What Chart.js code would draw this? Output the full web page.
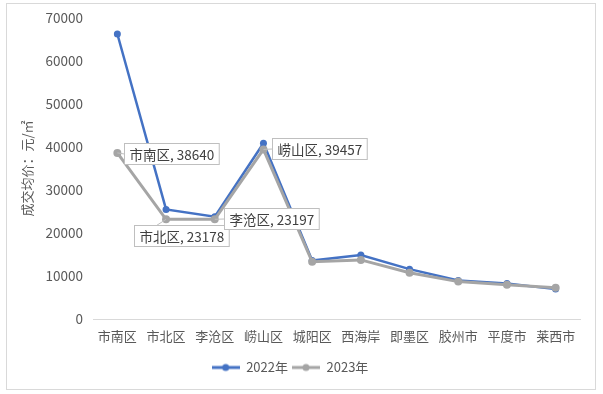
<!DOCTYPE html>
<html>
<head>
<meta charset="utf-8">
<style>
  html, body { margin: 0; padding: 0; background: #fff; }
</style>
</head>
<body>
<canvas id="myChart" width="603" height="394"></canvas>
<script src="https://cdn.jsdelivr.net/npm/chart.js"></script>
<script>
const districts = ['市南区', '市北区', '李沧区', '崂山区', '城阳区', '西海岸', '即墨区', '胶州市', '平度市', '莱西市'];
const price2022 = [66300, 25500, 23800, 40900, 13600, 14900, 11600, 8950, 8250, 6950];
const price2023 = [38640, 23178, 23197, 39457, 13300, 13750, 10750, 8700, 7950, 7250];
const seriesNames = ['2022年', '2023年'];
const labelledPoints = [0, 1, 2, 3]; // 2023年 with data labels

const FONT = '"Noto Sans CJK SC", "Noto Sans", sans-serif';
const TEXT = '#595959';

// legend icon: line + dot
function legendIcon(color, lw, r) {
  const c = document.createElement('canvas');
  c.width = 28; c.height = 10;
  const g = c.getContext('2d');
  g.strokeStyle = color; g.lineWidth = lw;
  g.beginPath(); g.moveTo(0, 5); g.lineTo(28, 5); g.stroke();
  g.fillStyle = color;
  g.beginPath(); g.arc(14, 5, r, 0, Math.PI * 2); g.fill();
  return c;
}

// outer frame
const framePlugin = {
  id: 'frame',
  beforeDraw(chart) {
    const ctx = chart.ctx;
    ctx.save();
    ctx.fillStyle = '#fff';
    ctx.fillRect(0, 0, chart.width, chart.height);
    ctx.strokeStyle = '#D9D9D9';
    ctx.lineWidth = 1;
    ctx.strokeRect(6.5, 3.5, 589, 386);
    ctx.restore();
  }
};

// callout labels for 2023
const calloutPlugin = {
  id: 'callouts',
  afterDatasetsDraw(chart) {
    const ctx = chart.ctx;
    const meta = chart.getDatasetMeta(1);
    // box placement relative to the point: [dx to left edge, dy to top edge]
    const place = { 0: [7, -10], 1: [-32, 6], 2: [9, -11], 3: [9, -11] };
    ctx.save();
    ctx.font = '13.5px ' + FONT;
    labelledPoints.forEach(i => {
      const pt = meta.data[i];
      const txt = districts[i] + ', ' + price2023[i];
      const w = ctx.measureText(txt).width + 10;
      const h = 21;
      const bx = Math.round(pt.x + place[i][0]) + 0.5;
      const by = Math.round(pt.y + place[i][1]) + 0.5;
      // leader
      ctx.strokeStyle = '#BFBFBF';
      ctx.lineWidth = 1;
      ctx.beginPath();
      ctx.moveTo(pt.x, pt.y);
      if (i === 1) ctx.lineTo(bx + 22, by);
      else ctx.lineTo(bx, by + h / 2);
      ctx.stroke();
      ctx.fillStyle = '#fff';
      ctx.fillRect(bx, by, w, h);
      ctx.strokeRect(bx, by, w, h);
      ctx.fillStyle = '#404040';
      ctx.textBaseline = 'middle';
      ctx.fillText(txt, bx + 5, by + h / 2 + 1);
    });
    ctx.restore();
  }
};

new Chart(document.getElementById('myChart'), {
  type: 'line',
  data: {
    labels: districts,
    datasets: [
      {
        label: seriesNames[0],
        data: price2022,
        borderColor: '#4472C4',
        backgroundColor: '#4472C4',
        borderWidth: 2.5,
        pointRadius: 3.5,
        pointBorderWidth: 0,
        tension: 0,
        order: 1
      },
      {
        label: seriesNames[1],
        data: price2023,
        borderColor: '#A5A5A5',
        backgroundColor: '#A5A5A5',
        borderWidth: 3,
        pointRadius: 4,
        pointBorderWidth: 0,
        tension: 0,
        order: 0
      }
    ]
  },
  options: {
    responsive: false,
    animation: false,
    devicePixelRatio: 1,
    layout: { padding: { top: 18, right: 23, bottom: 10, left: 0 } },
    scales: {
      x: {
        offset: true,
        grid: { display: false, drawTicks: false },
        border: { display: true, color: '#D9D9D9', width: 1 },
        ticks: { color: TEXT, font: { family: FONT, size: 13 }, padding: 9, maxRotation: 0, autoSkip: false },
        afterFit: s => { s.height = 38; }
      },
      y: {
        min: 0,
        max: 70000,
        ticks: {
          stepSize: 10000,
          color: TEXT,
          font: { family: FONT, size: 13.5 },
          padding: 10,
          callback: v => String(v)
        },
        grid: { display: false, drawTicks: false },
        border: { display: false },
        title: {
          display: true,
          text: '成交均价：元/㎡',
          color: TEXT,
          font: { family: FONT, size: 13 },
          padding: { top: 19, bottom: 0 }
        },
        afterFit: s => { s.width = 93; }
      }
    },
    plugins: {
      tooltip: { enabled: false },
      legend: {
        position: 'bottom',
        labels: {
          color: TEXT,
          font: { family: FONT, size: 13 },
          usePointStyle: true,
          pointStyleWidth: 28,
          padding: 4,
          sort: (a, b) => a.datasetIndex - b.datasetIndex,
          generateLabels: chart => {
            const items = Chart.defaults.plugins.legend.labels.generateLabels(chart);
            items.forEach(it => {
              const ds = chart.data.datasets[it.datasetIndex];
              it.pointStyle = legendIcon(ds.borderColor, 3, 3.5);
            });
            return items;
          }
        }
      }
    }
  },
  plugins: [framePlugin, calloutPlugin]
});
</script>
</body>
</html>
